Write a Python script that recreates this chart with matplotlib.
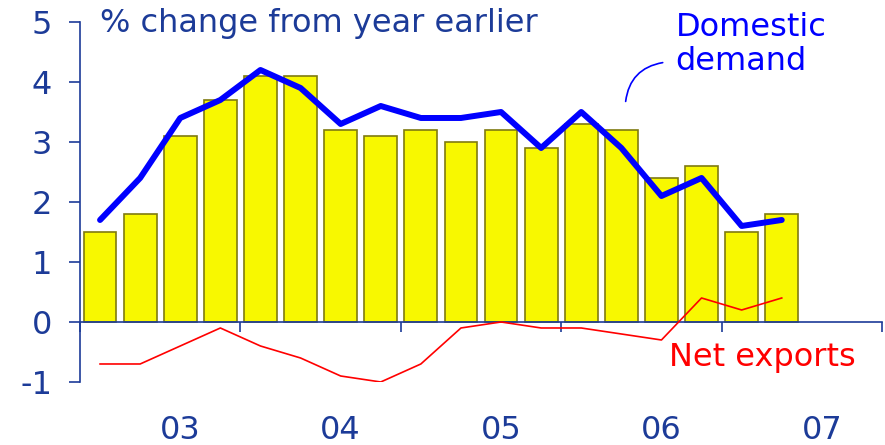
import numpy as np
import matplotlib.pyplot as plt

plt.rcParams['axes.unicode_minus'] = False

# quarterly, 2002 Q4 .. 2007 Q1
bars = [1.5, 1.8, 3.1, 3.7, 4.1, 4.1, 3.2, 3.1, 3.2, 3.0, 3.2, 2.9, 3.3, 3.2, 2.4, 2.6, 1.5, 1.8]
domestic = [1.7, 2.4, 3.4, 3.7, 4.2, 3.9, 3.3, 3.6, 3.4, 3.4, 3.5, 2.9, 3.5, 2.9, 2.1, 2.4, 1.6, 1.7]
net_exports = [-0.7, -0.7, -0.4, -0.1, -0.4, -0.6, -0.9, -1.0, -0.7, -0.1, 0.0, -0.1, -0.1, -0.2, -0.3, 0.4, 0.2, 0.4]
years = ['03', '04', '05', '06', '07']

navy = '#1c3b98'
fs = 23
x = np.arange(len(bars))

fig = plt.figure(figsize=(8.85, 4.45), dpi=100)
ax = fig.add_axes([0.0904, 0.1416, 0.9062, 0.809])

ax.bar(x, bars, width=0.82, color='#f8f800', edgecolor='#7f7a10', linewidth=1.2, zorder=2)
ax.plot(x, domestic, color='#0000ff', lw=4.3, solid_capstyle='round', zorder=3)
ax.plot(x, net_exports, color='#ff0000', lw=1.2, zorder=3)

ax.set_xlim(-0.5, 19.5)
ax.set_ylim(-1, 5)
ax.spines['top'].set_visible(False)
ax.spines['right'].set_visible(False)
ax.spines['bottom'].set_position(('data', 0))
for s in ['left', 'bottom']:
    ax.spines[s].set_color(navy)
    ax.spines[s].set_linewidth(1.2)

ax.set_xticks(np.arange(-0.5, 20, 4))
ax.set_xticklabels([])
ax.tick_params(axis='x', direction='out', length=7, width=1.2, color=navy)
ax.set_yticks(range(-1, 6))
ax.tick_params(axis='y', direction='out', length=8, width=1.2, color=navy,
               labelcolor=navy, labelsize=fs, pad=12)

for i, yr in enumerate(years):
    ax.text(2 + 4 * i, -1.95, yr, color=navy, fontsize=fs, ha='center', va='baseline', clip_on=False)

ax.text(0.0, 4.97, '% change from year earlier', color=navy, fontsize=fs, ha='left', va='center')
ax.text(14.35, 4.62, 'Domestic\ndemand', color='#0000ff', fontsize=fs, ha='left', va='center',
        linespacing=1.12)
ax.annotate('', xy=(13.1, 3.63), xytext=(14.1, 4.33),
            arrowprops=dict(arrowstyle='-', color='#0000ff', lw=1.2,
                            connectionstyle='arc3,rad=0.4'))
ax.text(14.2, -0.6, 'Net exports', color='#ff0000', fontsize=fs, ha='left', va='center')

fig.savefig('out.png', dpi=100)
